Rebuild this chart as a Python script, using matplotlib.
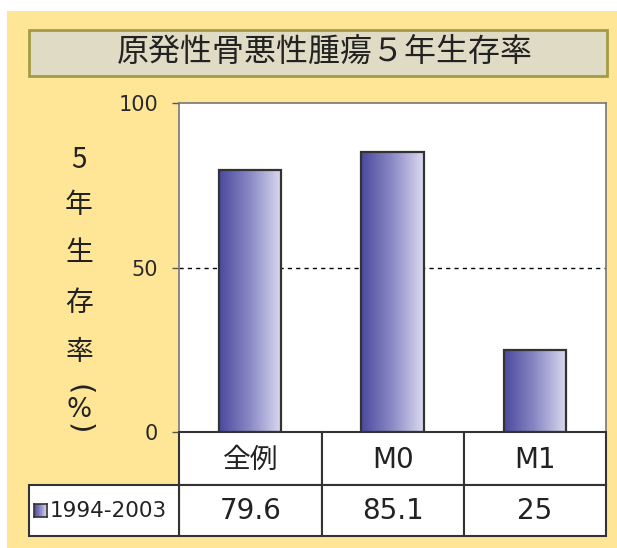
import numpy as np
import matplotlib
matplotlib.use("Agg")
import matplotlib.pyplot as plt
from matplotlib.patches import Rectangle
from matplotlib.colors import LinearSegmentedColormap

# --------- DATA ---------
categories = ["全例", "M0", "M1"]
values = [79.6, 85.1, 25]
series_name = "1994-2003"
title = "原発性骨悪性腫瘍５年生存率"
ylabel_chars = ["5", "年", "生", "存", "率"]
yticks = [0, 50, 100]

# --------- STYLE ---------
plt.rcParams['font.family'] = ['DejaVu Sans', 'Noto Sans CJK JP']
W, H = 617, 548
BG_YELLOW = "#FFE697"
EDGE = "#333333"
TXT = "#222222"
CJK = ['Noto Sans CJK JP', 'DejaVu Sans']
grad = LinearSegmentedColormap.from_list("bar", ["#4A499D", "#8B8AC6", "#DCDBF0"])


def fx(x):
    return x / W


def fy(y):
    return 1 - y / H


fig = plt.figure(figsize=(W / 100, H / 100), dpi=100)
fig.patch.set_facecolor("white")

# yellow panel
fig.patches.append(Rectangle((fx(7), 0), 1 - fx(7), fy(11), transform=fig.transFigure,
                             facecolor=BG_YELLOW, edgecolor="none", zorder=-2))

# title box
fig.patches.append(Rectangle((fx(29), fy(76)), fx(607) - fx(29), fy(30) - fy(76),
                             transform=fig.transFigure, facecolor="#E0DBC5",
                             edgecolor="#A39B45", linewidth=2, zorder=-1))
fig.text(fx(325), fy(52), title, ha="center", va="center", fontsize=23,
         family=CJK, color=TXT)

# --------- PLOT ---------
ax = fig.add_axes([fx(179), fy(432), fx(606) - fx(179), fy(103) - fy(432)])
ax.set_zorder(1)
ax.set_facecolor("white")
x = np.arange(len(categories))
bars = ax.bar(x, values, width=0.44, color="#8B8AC6", edgecolor=EDGE, linewidth=1.6, zorder=3)

gradient = np.linspace(0, 1, 256).reshape(1, -1)
for b in bars:
    x0, w, h = b.get_x(), b.get_width(), b.get_height()
    im = ax.imshow(gradient, cmap=grad, extent=[x0, x0 + w, 0, h], aspect="auto", zorder=3.5)
    im.set_clip_path(b)
    b.set_facecolor("none")
    b.set_zorder(4)

ax.axhline(50, color="black", linestyle=(0, (3, 3)), linewidth=1, zorder=1)
ax.set_xlim(-0.5, len(categories) - 0.5)
ax.set_ylim(0, 100)
ax.set_xticks([])
ax.set_yticks(yticks)
ax.tick_params(axis="y", length=5, width=1, color="#555555", labelsize=15, pad=10,
               labelcolor="#2a2a2a")
for s in ax.spines.values():
    s.set_color("#777777")
    s.set_linewidth(1.2)

# vertical y label
ys = [160, 205, 253, 303, 352]
for ch, yy in zip(ylabel_chars, ys):
    fig.text(fx(79), fy(yy), ch, ha="center", va="center", fontsize=20,
             family=CJK, color=TXT)
fig.text(fx(79), fy(390), "(", ha="center", va="center", fontsize=21, rotation=-90,
         family=['DejaVu Sans'], color=TXT)
fig.text(fx(79), fy(410), "%", ha="center", va="center", fontsize=19, color=TXT)
fig.text(fx(79), fy(429), ")", ha="center", va="center", fontsize=21, rotation=-90,
         family=['DejaVu Sans'], color=TXT)

# --------- TABLE ---------
col_edges = [179, 322, 464, 606]
row1 = (432, 485)
row2 = (485, 536)
for i in range(len(categories)):
    l, r = col_edges[i], col_edges[i + 1]
    for (t, btm) in (row1, row2):
        fig.patches.append(Rectangle((fx(l), fy(btm)), fx(r) - fx(l), fy(t) - fy(btm),
                                     transform=fig.transFigure, facecolor="white",
                                     edgecolor=EDGE, linewidth=1.5, zorder=2))
    cx = (l + r) / 2
    fig.text(fx(cx), fy(460), categories[i], ha="center", va="center", fontsize=20,
             color=TXT, zorder=3)
    fig.text(fx(cx), fy(511), f"{values[i]:g}", ha="center", va="center", fontsize=20,
             color=TXT, zorder=3)

fig.patches.append(Rectangle((fx(29), fy(row2[1])), fx(179) - fx(29), fy(row2[0]) - fy(row2[1]),
                             transform=fig.transFigure, facecolor="white",
                             edgecolor=EDGE, linewidth=1.5, zorder=2))
# legend swatch
sw = fig.add_axes([fx(34), fy(517), fx(47) - fx(34), fy(504) - fy(517)])
sw.set_zorder(5)
sw.imshow(gradient, cmap=grad, aspect="auto")
sw.set_xticks([])
sw.set_yticks([])
for s in sw.spines.values():
    s.set_color(EDGE)
    s.set_linewidth(1.2)
fig.text(fx(50), fy(511), series_name, ha="left", va="center", fontsize=15.5,
         color=TXT, zorder=3)

plt.savefig("out.png", dpi=100)
plt.close()
